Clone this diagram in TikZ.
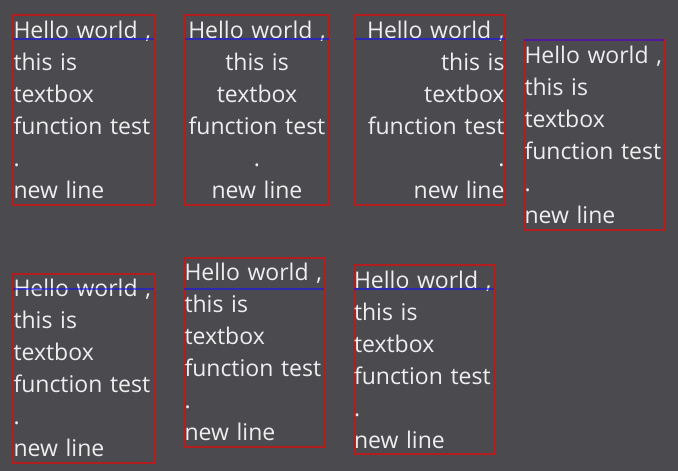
\documentclass[tikz,border=0pt]{standalone}
\usepackage{fontspec}
\setmainfont{Open Sans}
\usepackage{tikz}
\definecolor{bgGray}{HTML}{4B4A4F}
\definecolor{boxRed}{HTML}{B21E1E}
\definecolor{lineBlue}{HTML}{1414F0}
\definecolor{textWhite}{HTML}{EEEEEE}
\newcommand{\boxtext}{Hello~world~,\\this~is\\textbox\\function~test\\.\\new~line}

\begin{document}
\begin{tikzpicture}[x=1pt, y=-1pt,
        tbox/.style={draw=boxRed, line width=2pt, anchor=north west,
            outer sep=0pt, inner xsep=0.5pt, inner ysep=0pt, text=textWhite,
            font=\fontsize{23}{32}\selectfont,
            text height=23.3pt, text depth=166.2pt},
        guide/.style={lineBlue, line width=2pt, opacity=0.6}]
            \fill[bgGray] (0,0) rectangle (678,471);
            \coordinate (G1) at (0,39);
            \coordinate (G2) at (0,289);
            % first row
            \node[tbox, text width=140pt, align=left] (T1) at (13,15) {\boxtext};
            \node[tbox, text width=143pt, align=center] (T2) at (185,15) {\boxtext};
            \node[tbox, text width=149pt, align=right] (T3) at (355,15) {\boxtext};
            \node[tbox, text width=139pt, align=left] (T4) at (524,40) {\boxtext};
            % second row
            \node[tbox, text width=140pt, align=left] (T5) at (13,273.5) {\boxtext};
            \node[tbox, text width=139pt, align=left] (T6) at (184,257.5) {\boxtext};
            \node[tbox, text width=139.5pt, align=left] (T7) at (353.5,264.7) {\boxtext};
            \foreach \n in {T1,T2,T3}
                \draw[guide] (\n.west |- G1) -- (\n.east |- G1);
            \draw[guide] (T4.north west) -- (T4.north east);
            \foreach \n in {T5,T6,T7}
                \draw[guide] (\n.west |- G2) -- (\n.east |- G2);
\end{tikzpicture}
\end{document}
